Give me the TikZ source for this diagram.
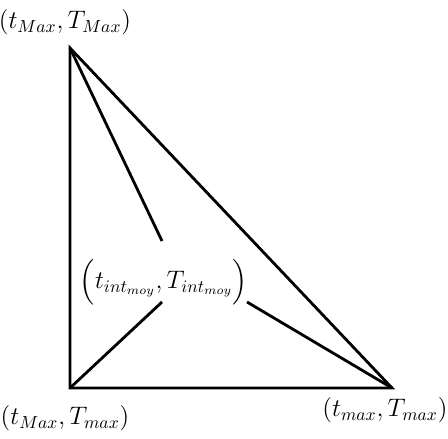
\documentclass[tikz,border=0pt]{standalone}
\usepackage{amsmath}
\usetikzlibrary{positioning,calc}

\begin{document}
\begin{tikzpicture}[
    x=0.02cm, y=-0.02cm,
    edge/.style={line width=1.6pt, draw=black},
    lab/.style={font=\Large, inner sep=0pt}
]
    \useasboundingbox (0,0) rectangle (448,438);

    % Vertices
    \coordinate (top) at (70,48);
    \coordinate (bl) at (70,388);
    \coordinate (br) at (392,388);

    % Inner ends
    \coordinate (etop) at (162,241);
    \coordinate (ebl) at (162,302);
    \coordinate (ebr) at (247,302);

    % Labels
    \node[lab] (ltop) at (65,22) {$(t_{Max},T_{Max})$};
    \node[lab] (lbl) at (65,418) {$(t_{Max},T_{max})$};
    \node[lab] (lbr) at (385,410) {$(t_{max},T_{max})$};
    \node[lab] (lmoy) at (164,282) {$\Bigl(t_{int_{moy}},T_{int_{moy}}\Bigr)$};

    % Triangle
    \draw[edge, line join=miter] (top) -- (bl) -- (br) -- cycle;

    % Inner lines
    \draw[edge] (top) -- (etop);
    \draw[edge] (bl) -- (ebl);
    \draw[edge] (br) -- (ebr);

\end{tikzpicture}
\end{document}
